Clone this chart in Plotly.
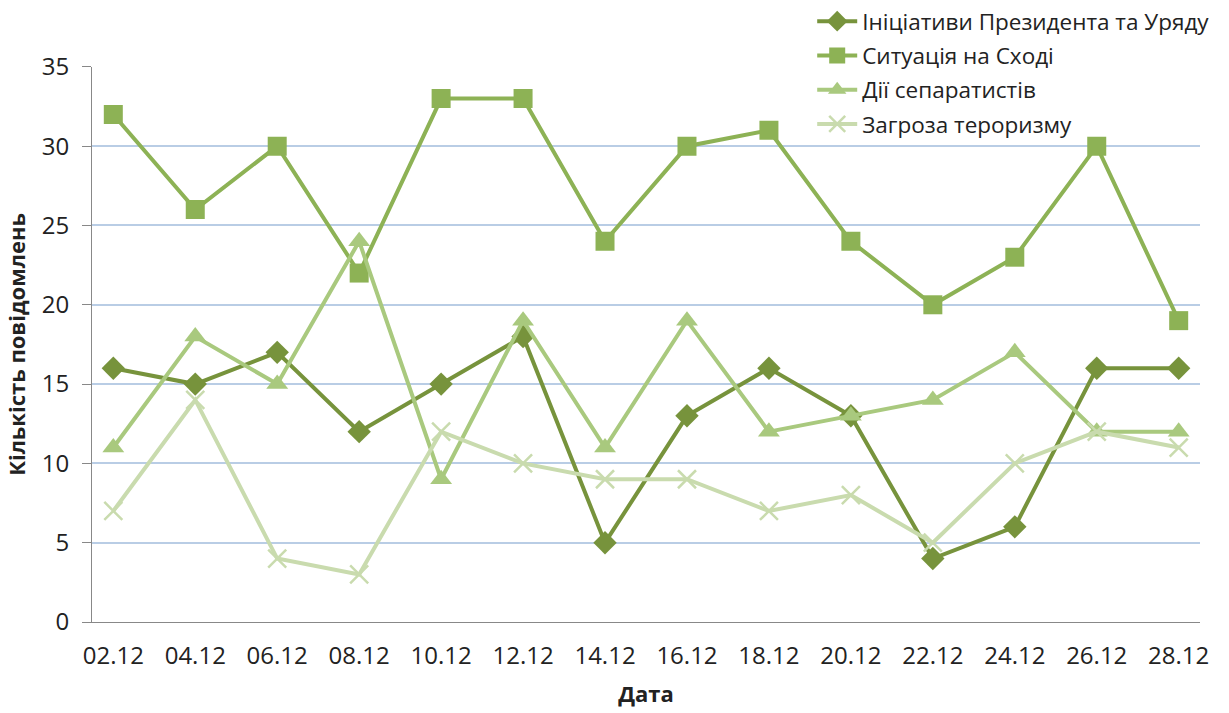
import plotly.graph_objects as go

dates = ["02.12", "04.12", "06.12", "08.12", "10.12", "12.12", "14.12",
         "16.12", "18.12", "20.12", "22.12", "24.12", "26.12", "28.12"]

initiatives = [16, 15, 17, 12, 15, 18, 5, 13, 16, 13, 4, 6, 16, 16]
east = [32, 26, 30, 22, 33, 33, 24, 30, 31, 24, 20, 23, 30, 19]
separatists = [11, 18, 15, 24, 9, 19, 11, 19, 12, 13, 14, 17, 12, 12]
terrorism = [7, 14, 4, 3, 12, 10, 9, 9, 7, 8, 5, 10, 12, 11]

names = ["Ініціативи Президента та Уряду", "Ситуація на Сході",
         "Дії сепаратистів", "Загроза тероризму"]

font = "Open Sans, Noto Sans, sans-serif"

fig = go.Figure()
fig.add_trace(go.Scatter(
    x=dates, y=initiatives, name=names[0], mode="lines+markers", legendgroup="a",
    line=dict(color="#77933C", width=4),
    marker=dict(symbol="diamond", size=18, color="#77933C"),
))
fig.add_trace(go.Scatter(
    x=dates, y=east, name=names[1], mode="lines+markers", legendgroup="b",
    line=dict(color="#8DB255", width=4),
    marker=dict(symbol="square", size=19, color="#8DB255"),
))
fig.add_trace(go.Scatter(
    x=dates, y=separatists, name=names[2], mode="lines+markers", legendgroup="c",
    line=dict(color="#A9C97E", width=4),
    marker=dict(symbol="triangle-up", size=19, color="#A9C97E"),
))
fig.add_trace(go.Scatter(
    x=dates, y=terrorism, name=names[3], mode="lines+markers", legendgroup="d",
    line=dict(color="#C9DBAE", width=4),
    marker=dict(symbol="x-thin-open", size=18,
                line=dict(color="#C9DBAE", width=2.5)),
))

# the legend box hides the top gridline on the right, like in the original
fig.add_shape(type="rect", xref="paper", yref="y", x0=0.621, x1=1.0, y0=34.6, y1=35.4,
              fillcolor="white", line_width=0, layer="between")

fig.update_layout(
    width=1229, height=713,
    margin=dict(l=92, r=29, t=0, b=91),
    plot_bgcolor="white",
    paper_bgcolor="white",
    font=dict(family=font, size=24, color="#222"),
    legend=dict(
        x=0.650, y=1.0, xanchor="left", yanchor="top",
        bgcolor="rgba(0,0,0,0)", font=dict(size=22.5, color="#222"),
        traceorder="grouped", tracegroupgap=2, itemwidth=40,
    ),
    xaxis=dict(
        type="category", range=[-0.26, 13.26], automargin=False,
        showgrid=False, showline=True, linecolor="#888", linewidth=1,
        ticks="", tickfont=dict(size=24), ticklabelstandoff=12,
        title=dict(text="<b>Дата</b>", font=dict(size=22), standoff=16),
    ),
    yaxis=dict(
        range=[0, 35], dtick=5, domain=[0, 0.8925], automargin=False,
        showgrid=True, gridcolor="#B9CDE5", gridwidth=1.5,
        showline=True, linecolor="#888", linewidth=1,
        ticks="outside", ticklen=9, tickcolor="#888",
        tickfont=dict(size=24), zeroline=False, ticklabelstandoff=8,
        title=dict(text="<b>Кількість повідомлень</b>", font=dict(size=22), standoff=10),
    ),
)

fig.write_html("out.html", config={"displayModeBar": False},
               post_script="document.body.style.margin='0';")
